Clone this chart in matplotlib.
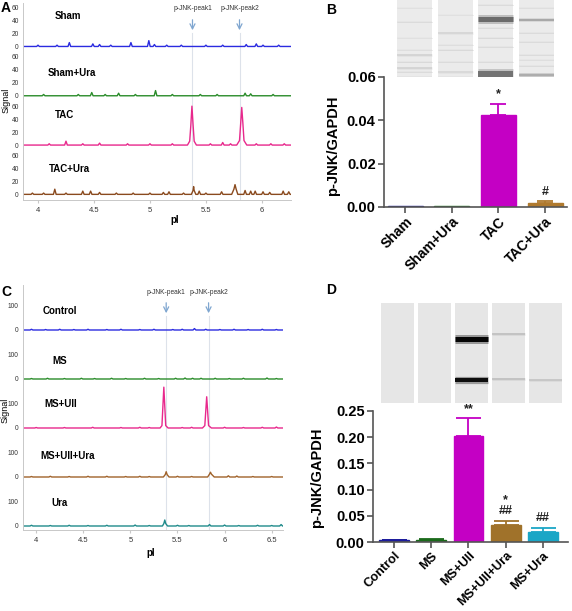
import matplotlib.pyplot as plt
from matplotlib.transforms import blended_transform_factory

plt.rcParams['font.family'] = ['Liberation Sans', 'DejaVu Sans']

W, H = 572, 611

# ---------------- panel A: electropherograms (TAC model) ----------------
a_names = ['Sham', 'Sham+Ura', 'TAC', 'TAC+Ura']
a_colors = ['#2b2be0', '#2a8c2a', '#e8288c', '#8a4a1e']
a_spikes = [
    [(4.00, 2), (4.17, 2), (4.28, 6), (4.49, 4), (4.55, 3), (4.65, 2), (4.83, 6), (4.99, 9),
     (5.04, 3), (5.15, 2), (5.28, 2), (5.50, 2), (5.65, 2), (5.86, 3), (5.95, 4), (6.01, 2), (6.15, 2)],
    [(4.05, 2), (4.36, 2), (4.48, 5), (4.60, 2), (4.72, 4), (4.87, 2), (5.05, 8), (5.20, 2),
     (5.45, 2), (5.60, 2), (5.85, 4), (5.90, 3), (6.10, 2)],
    [(4.10, 2), (4.25, 6), (4.40, 2), (4.55, 3), (4.80, 2), (5.00, 2), (5.20, 2), (5.54, 2),
     (5.65, 4), (5.72, 2), (5.95, 2), (6.08, 2), (6.20, 2)],
    [(3.95, 2), (4.05, 2), (4.15, 8), (4.25, 2), (4.40, 5), (4.47, 5), (4.55, 3), (4.70, 2),
     (4.85, 2), (5.00, 2), (5.12, 3), (5.17, 4), (5.30, 2), (5.44, 5), (5.50, 2), (5.64, 4),
     (5.85, 6), (5.90, 5), (5.94, 5), (6.01, 4), (6.07, 3), (6.19, 5), (6.24, 4)],
]
a_peak_x = [[], [],
            [5.335, 5.355, 5.365, 5.375, 5.385, 5.395, 5.415, 5.775, 5.80, 5.81, 5.82, 5.83, 5.84, 5.865],
            [5.37, 5.385, 5.39, 5.395, 5.41, 5.73, 5.75, 5.76, 5.77, 5.785]]
a_peak_y = [[], [],
            [0, 6, 30, 60, 32, 6, 0, 0, 7, 32, 58, 34, 7, 0],
            [0, 6, 12, 6, 0, 0, 8, 15, 8, 0]]
a_xticks = [4, 4.5, 5, 5.5, 6]
a_yticks = [0, 20, 40, 60]
a_markers = [5.38, 5.80]

# ---------------- panel C: electropherograms (cell model) ----------------
c_names = ['Control', 'MS', 'MS+UII', 'MS+UII+Ura', 'Ura']
c_colors = ['#2b2be0', '#2a8c2a', '#e8288c', '#a0622a', '#1f8a8a']
c_spikes = [
    [(3.95, 3), (4.10, 2), (4.25, 3), (4.40, 2), (4.55, 3), (4.75, 2), (4.90, 3), (5.10, 2), (5.25, 3),
     (5.45, 2), (5.55, 3), (5.68, 6), (5.80, 3), (5.95, 2), (6.10, 3), (6.25, 2), (6.40, 3), (6.55, 2)],
    [(3.95, 2), (4.12, 3), (4.30, 2), (4.48, 3), (4.62, 2), (4.80, 3), (4.95, 2), (5.15, 3), (5.30, 2),
     (5.48, 3), (5.58, 4), (5.66, 3), (5.75, 3), (5.90, 3), (6.05, 2), (6.20, 3), (6.45, 4), (6.55, 2)],
    [(4.00, 2), (4.30, 2), (4.60, 3), (4.90, 2), (5.10, 3), (5.20, 2), (5.55, 2), (5.65, 3),
     (6.00, 3), (6.20, 2), (6.40, 3), (6.55, 4)],
    [(3.95, 2), (4.15, 3), (4.35, 2), (4.55, 3), (4.75, 3), (4.95, 2), (5.10, 3), (5.20, 2),
     (5.50, 3), (5.65, 2), (6.04, 5), (6.13, 4), (6.30, 2), (6.50, 2)],
    [(3.95, 3), (4.15, 2), (4.35, 3), (4.55, 2), (4.75, 3), (5.05, 4), (5.20, 2), (5.50, 3),
     (5.62, 2), (5.84, 6), (6.00, 4), (6.15, 2), (6.35, 3), (6.50, 2), (6.60, 6)],
]
c_peak_x = [[], [],
            [5.315, 5.335, 5.345, 5.355, 5.365, 5.375, 5.40, 5.765, 5.79, 5.80, 5.81, 5.82, 5.83, 5.86],
            [5.35, 5.37, 5.38, 5.39, 5.41, 5.82, 5.84, 5.85, 5.86, 5.89],
            [5.34, 5.355, 5.365, 5.375, 5.395]]
c_peak_y = [[], [],
            [0, 10, 90, 170, 90, 10, 0, 0, 10, 70, 130, 70, 10, 0],
            [0, 10, 22, 10, 0, 0, 12, 20, 12, 0],
            [0, 10, 25, 10, 0]]
c_xticks = [4, 4.5, 5, 5.5, 6, 6.5]
c_yticks = [0, 100]
c_markers = [5.38, 5.83]

# ---------------- panel B: gel + bars ----------------
b_groups = ['Sham', 'Sham+Ura', 'TAC', 'TAC+Ura']
b_values = [0.0005, 0.0004, 0.0425, 0.0018]
b_errors = [0.0, 0.0, 0.0052, 0.0008]
b_colors = ['#1c1c9c', '#1a7a1a', '#c400c4', '#b07a2e']
b_marks = ['', '', '*', '#']
b_bands = [
    [(8, 0.88, 1), (22, 0.86, 1), (38, 0.88, 1), (50, 0.87, 1), (55, 0.82, 1.5), (62, 0.85, 1),
     (68, 0.82, 1.5), (72, 0.86, 1), (77, 0.84, 1)],
    [(15, 0.88, 1), (33, 0.83, 1.5), (45, 0.87, 1), (50, 0.85, 1), (62, 0.86, 1), (72, 0.84, 1.5),
     (77, 0.86, 1)],
    [(5, 0.86, 1), (19, 0.42, 5), (28, 0.86, 1), (38, 0.85, 1), (47, 0.86, 1), (62, 0.86, 1),
     (74, 0.45, 6), (82, 0.86, 1)],
    [(8, 0.87, 1), (20, 0.66, 2), (33, 0.86, 1), (42, 0.86, 1), (55, 0.86, 1), (60, 0.87, 1),
     (66, 0.86, 1), (75, 0.68, 2.5)],
]

# ---------------- panel D: gel + bars ----------------
d_groups = ['Control', 'MS', 'MS+UII', 'MS+UII+Ura', 'MS+Ura']
d_values = [0.003, 0.004, 0.203, 0.0325, 0.0197]
d_errors = [0.0005, 0.0008, 0.033, 0.0085, 0.0075]
d_colors = ['#1c1c9c', '#1a6a1a', '#c400c4', '#a0722a', '#1aa6c6']
d_marks = ['', '', '**', '*\n##', '##']
d_bands = [[], [], [(36, 0.02, 5), (77, 0.05, 4)], [(31, 0.74, 1.5), (76, 0.74, 1.5)], [(77, 0.76, 1.5)]]

fig = plt.figure(figsize=(W / 100, H / 100), dpi=100)


def px_axes(l, t, r, b):
    return fig.add_axes([l / W, 1 - b / H, (r - l) / W, (b - t) / H])


def ftext(x, y, s, **kw):
    fig.text(x / W, 1 - y / H, s, **kw)


def trace(spikes, peak_x, peak_y, x0, x1, hw):
    pts = [(x0, 0), (x1, 0)] + list(zip(peak_x, peak_y))
    for p, h in spikes:
        pts += [(p - hw, 0), (p, h), (p + hw, 0)]
    pts.sort()
    return [p[0] for p in pts], [p[1] for p in pts]


def trace_panel(top, step, left, right, ylim, xlim, names, colors, spikes, pkx, pky,
                xticks, yticks, markers, hw, arrow_y, first_frac, label_pos):
    axes = []
    for i in range(len(names)):
        ax = px_axes(left, top + step * i, right, top + step * (i + 1))
        xs, ys = trace(spikes[i], pkx[i], pky[i], xlim[0], xlim[1], hw)
        ax.plot(xs, ys, color=colors[i], lw=1.0)
        ax.set_xlim(*xlim)
        ax.set_ylim(*ylim)
        for m in markers:
            ax.axvline(m, ymax=first_frac if i == 0 else 1, color='#dde2ea', lw=0.8, zorder=0)
        for s in ['top', 'right']:
            ax.spines[s].set_visible(False)
        ax.spines['left'].set_color('#c8c8c8')
        ax.spines['left'].set_linewidth(0.7)
        ax.set_yticks(yticks)
        ax.tick_params(axis='y', length=0, labelsize=4.8, labelcolor='#333333', pad=3)
        if i < len(names) - 1:
            ax.spines['bottom'].set_visible(False)
            ax.set_xticks([])
        else:
            ax.spines['bottom'].set_color('#c8c8c8')
            ax.spines['bottom'].set_linewidth(0.7)
            ax.set_xticks(xticks)
            ax.set_xticklabels([f'{t:g}' for t in xticks])
            ax.tick_params(axis='x', length=2, color='#c8c8c8', labelsize=5.5, labelcolor='#333333', pad=3)
        ftext(label_pos[i][0], label_pos[i][1], names[i], fontsize=7, fontweight='bold', va='center')
        axes.append(ax)
    tr = blended_transform_factory(axes[0].transData, fig.transFigure)
    for k, m in enumerate(markers):
        axes[0].annotate('', xy=(m, 1 - arrow_y[2] / H), xytext=(m, 1 - arrow_y[1] / H),
                         xycoords=tr, textcoords=tr,
                         arrowprops=dict(arrowstyle='->', color='#7fa6d0', lw=0.9, mutation_scale=9),
                         annotation_clip=False)
        axes[0].text(m, 1 - arrow_y[0] / H, f'p-JNK-peak{k + 1}', transform=tr, ha='center',
                     va='center', fontsize=4.8, color='#333333')
    return axes


# panel A
trace_panel(3, 49.3, 23, 291, (-9, 67), (3.866, 6.26), a_names, a_colors, a_spikes, a_peak_x, a_peak_y,
            a_xticks, a_yticks, a_markers, 0.012, (8, 17, 33), 0.39,
            [(55, 16), (48, 73), (55, 115), (49, 169)])
ftext(6, 100, 'Signal', rotation=90, fontsize=6.5, ha='center', va='center')
ftext(175, 220, 'pI', fontsize=7, fontweight='bold', ha='center', va='center')

# panel C
trace_panel(284.6, 49, 23, 283, (-15, 189), (3.86, 6.62), c_names, c_colors, c_spikes, c_peak_x, c_peak_y,
            c_xticks, c_yticks, c_markers, 0.015, (292, 300, 316), 0.36,
            [(43, 311), (52, 361), (44, 404), (40, 456), (51, 503)])
ftext(5, 410, 'Signal', rotation=90, fontsize=6.5, ha='center', va='center')
ftext(151, 553, 'pI', fontsize=7, fontweight='bold', ha='center', va='center')


def gel(box, bands, height, width, bg):
    ax = px_axes(*box)
    n = len(bands)
    ax.bar(range(n), [height] * n, width=width, bottom=0, color=bg)
    for i, lane in enumerate(bands):
        for y, g, t in lane:
            # soft halo, then the band core
            ax.hlines(y, i - width / 2, i + width / 2, color=str(g), lw=t * 0.72 * 1.8, alpha=0.35)
            ax.hlines(y, i - width / 2, i + width / 2, color=str(g), lw=t * 0.72)
    ax.set_xlim(-width / 2, n - 1 + width / 2)
    ax.set_ylim(height, 0)
    ax.axis('off')


def bar_panel(box, groups, values, errors, colors, marks, width, xlim, ylim, yticks, ylab_xy,
              capsize, xfont):
    ax = px_axes(*box)
    x = list(range(len(groups)))
    for i in x:
        if errors[i] > 0:
            ax.errorbar(i, values[i], yerr=[[0], [errors[i]]], fmt='none', ecolor=colors[i],
                        elinewidth=1.3, capsize=capsize, capthick=1.3, zorder=1)
        if marks[i]:
            ax.annotate(marks[i], (i, values[i] + errors[i]), xytext=(0, 2.5), textcoords='offset points',
                        ha='center', va='bottom', fontsize=9, fontweight='bold', color='#222222',
                        linespacing=0.85)
    ax.bar(x, values, width=width, color=colors, edgecolor=colors, zorder=2)
    ax.set_xlim(*xlim)
    ax.set_ylim(*ylim)
    ax.set_yticks(yticks)
    ax.set_yticklabels([f'{t:.2f}' for t in yticks], fontweight='bold', fontsize=10.5)
    ax.set_xticks(x)
    ax.set_xticklabels(groups, rotation=45, ha='right', rotation_mode='anchor',
                       fontweight='bold', fontsize=xfont)
    for s in ['top', 'right']:
        ax.spines[s].set_visible(False)
    for s in ['left', 'bottom']:
        ax.spines[s].set_color('#555555')
        ax.spines[s].set_linewidth(1.2)
    ax.tick_params(length=4, width=1.2, color='#555555', pad=2)
    ax.tick_params(axis='x', pad=1.5)
    ax.set_ylabel('p-JNK/GAPDH', fontsize=10.5, fontweight='bold')
    ax.yaxis.set_label_coords(*ylab_xy)
    return ax


# panel B
gel((397, 0, 554, 86), b_bands, 86, 0.864, '#ebebeb')
bar_panel((384, 77, 567, 207), b_groups, b_values, b_errors, b_colors, b_marks, 0.75,
          (-0.45, 3.47), (0, 0.06), [0, 0.02, 0.04, 0.06], (-0.24, 0.47), 6, 10)

# panel D
gel((381, 303, 562, 403), d_bands, 100, 0.9, '#e6e6e6')
bar_panel((373, 411, 568, 542), d_groups, d_values, d_errors, d_colors, d_marks, 0.8,
          (-0.56, 4.67), (0, 0.25), [0, 0.05, 0.10, 0.15, 0.20, 0.25], (-0.25, 0.49), 9, 9.2)

for lab, x, y in [('A', 6, 8), ('B', 331, 10), ('C', 6, 292), ('D', 331, 290)]:
    ftext(x, y, lab, fontsize=10, fontweight='bold', ha='center', va='center')

fig.savefig('out.png', dpi=100)
